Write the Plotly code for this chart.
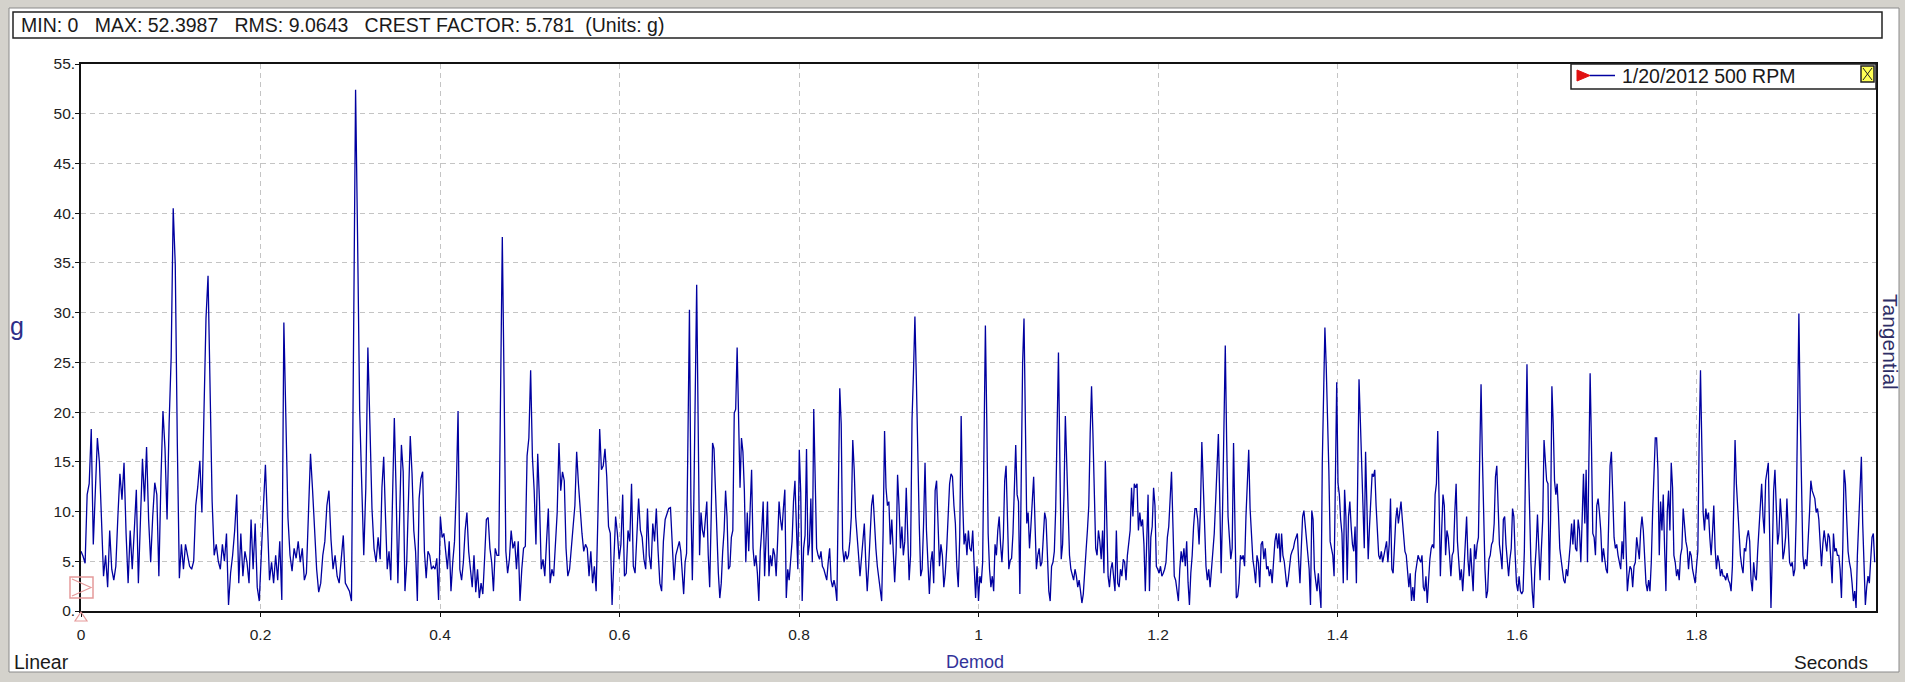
import numpy as np
import plotly.graph_objects as go

# ---- data: demodulated acceleration waveform (g), read in six 1/3-second blocks ----
SEG_1 = [6.0, 5.5, 4.8, 11.7, 12.8, 18.3, 6.7, 12.2, 17.4, 14.9,
         9.2, 3.5, 5.6, 2.4, 8.1, 4.2, 3.1, 4.5, 9.5, 13.8,
         11.2, 14.9, 7.8, 2.8, 8.1, 4.2, 8.1, 12.2, 2.8, 8.1,
         15.3, 11.0, 16.5, 9.2, 4.9, 9.5, 12.9, 11.7, 3.5, 13.1,
         20.1, 16.3, 9.2, 18.8, 25.5, 40.5, 34.8, 16.9, 3.3,
         6.7, 4.2, 6.7, 5.5, 4.5, 4.2, 5.0, 10.6, 12.5, 15.1,
         9.9, 19.9, 29.4, 33.7, 23.5, 11.0, 5.6, 6.7, 5.0, 4.2,
         6.7, 5.0, 7.8, 0.6, 3.8, 5.6, 8.1, 11.7, 2.8, 7.8,
         3.5, 6.0, 4.9, 2.8, 9.2, 4.2, 8.8, 2.4, 1.0, 6.3,
         10.4, 14.7, 8.5, 3.1, 4.9, 2.8, 5.6, 3.1, 7.0, 1.1,
         29.0, 17.6, 9.4, 5.6, 4.0, 6.3, 5.3, 7.0, 4.9, 6.3,
         3.1, 3.8, 9.5, 15.8, 12.2, 7.8, 4.2, 1.9, 2.8, 5.6,
         7.0, 10.6, 12.1, 7.2, 4.2, 5.6, 3.5, 2.8, 5.6, 7.6,
         2.8, 2.4, 2.0, 1.0, 31.7, 52.4, 37.1, 20.1, 12.8, 5.6,
         12.4, 26.5, 18.7, 10.3, 6.3, 4.9, 7.4]
SEG_2 = [5.2, 12.4, 15.5, 9.5, 4.2, 6.0, 3.1, 11.5, 19.4, 12.1,
         2.8, 9.5, 16.7, 14.0, 2.0, 4.9, 12.4, 17.6, 13.8, 8.1,
         6.0, 1.0, 11.3, 13.3, 14.0, 6.0, 3.3, 6.0, 5.6, 4.2,
         4.5, 4.2, 5.3, 1.1, 9.5, 7.4, 7.8, 6.3, 4.2, 7.0,
         2.0, 4.9, 7.0, 12.2, 20.1, 4.2, 3.1, 4.9, 8.1, 9.9,
         6.0, 4.2, 2.4, 5.6, 1.9, 4.2, 1.3, 2.8, 1.7, 5.3,
         9.2, 9.4, 6.3, 4.9, 2.0, 6.3, 5.6, 5.6, 22.1, 37.6,
         22.8, 6.0, 3.8, 5.2, 8.1, 6.3, 7.0, 4.2, 7.0, 1.0,
         4.2, 6.3, 6.5, 15.6, 17.4, 24.2, 15.5, 12.1, 6.7, 15.8,
         11.0, 4.2, 5.2, 3.5, 7.0, 10.3, 2.8, 4.2, 3.5, 6.3,
         9.9, 16.9, 12.1, 14.0, 13.1, 6.3, 3.5, 4.2, 6.7, 8.5,
         10.6, 16.0, 12.8, 9.9, 7.8, 6.0, 6.7, 6.3, 3.5, 6.0,
         2.8, 4.5, 2.0, 9.5, 18.3, 14.2, 14.6, 16.3, 13.5, 8.5,
         7.8, 0.6, 5.6, 9.5, 7.8, 5.2, 6.7, 11.7, 3.5, 3.8,
         8.1, 7.0, 12.8, 4.5, 3.8, 7.8, 11.3, 8.1, 7.4, 5.2,
         4.2, 10.3, 5.6, 4.2, 8.8, 7.0, 10.3, 6.0, 2.8, 2.0,
         7.0, 9.2, 9.9, 10.3, 10.4, 6.3, 3.1, 5.6, 6.3]
SEG_3 = [7.0, 6.0, 3.5, 1.7, 4.9, 5.8, 17.8, 30.3, 11.0, 3.1,
         10.8, 24.6, 32.8, 19.2, 5.6, 9.9, 8.1, 7.4, 9.2, 11.0,
         5.6, 2.4, 9.2, 16.9, 16.3, 11.7, 7.0, 3.8, 1.3, 2.8,
         6.0, 8.1, 12.1, 9.5, 4.2, 4.5, 7.4, 8.1, 19.9, 20.3,
         26.5, 18.1, 12.4, 17.4, 16.0, 12.1, 4.9, 9.9, 6.0, 10.3,
         14.2, 6.3, 4.5, 5.6, 3.8, 1.0, 6.0, 8.1, 11.0, 3.5,
         7.8, 11.0, 3.5, 5.6, 4.5, 6.3, 5.6, 3.5, 7.0, 11.0,
         9.2, 8.1, 10.3, 12.2, 1.3, 4.2, 3.1, 4.9, 7.0, 11.0,
         13.1, 8.5, 4.2, 16.2, 11.9, 1.0, 6.3, 7.6, 16.3, 5.6,
         6.7, 11.3, 4.9, 20.3, 12.4, 6.3, 5.6, 5.2, 6.0, 4.5,
         4.2, 3.5, 3.1, 4.9, 6.3, 3.1, 2.4, 3.1, 2.4, 1.0,
         11.3, 22.4, 18.8, 6.3, 4.9, 6.0, 5.2, 5.6, 7.0, 9.5,
         17.2, 14.2, 9.5, 7.8, 5.6, 3.5, 5.2, 6.7, 8.8, 4.9,
         2.0, 4.5, 7.8, 10.6, 11.7, 8.8, 6.3, 4.5, 3.1, 2.0,
         1.0, 7.8, 18.1, 12.4, 10.6, 11.0, 6.7, 9.2, 6.3, 2.9,
         6.0, 13.7, 10.6, 6.3, 8.5, 5.6, 7.0, 12.4, 7.8, 3.1,
         5.6, 19.2, 23.9, 29.6, 23.3, 14.9, 8.8, 3.5, 4.2, 8.8,
         14.9, 8.1, 4.2, 1.7, 4.9, 6.0, 2.8, 12.1, 13.1, 8.1,
         4.5, 6.7, 5.6, 2.4, 3.8, 6.3, 9.2, 12.8, 13.8, 13.5,
         10.6, 8.8, 4.5, 2.4, 7.4, 19.6, 11.3, 6.7, 7.8, 5.6,
         8.1, 6.3, 6.0, 8.1, 4.5, 1.3, 4.5]
SEG_4 = [1.0, 3.5, 2.8, 4.9, 15.6, 28.7, 19.2, 7.8, 4.2, 2.4,
         3.5, 2.0, 6.7, 5.6, 8.1, 9.5, 6.7, 4.9, 7.4, 13.1,
         14.6, 9.2, 4.2, 5.1, 5.3, 7.8, 11.7, 16.7, 11.7, 11.0,
         1.7, 14.2, 24.9, 29.4, 19.0, 8.8, 9.9, 6.3, 8.5, 11.0,
         13.5, 8.8, 4.2, 5.6, 6.3, 4.5, 4.9, 7.4, 9.9, 9.2,
         4.9, 2.0, 1.0, 4.5, 4.9, 6.0, 10.3, 18.1, 26.0, 15.3,
         5.2, 6.7, 11.7, 19.6, 14.9, 8.1, 5.6, 4.2, 3.5, 3.1,
         4.2, 3.5, 2.4, 3.1, 2.0, 0.8, 1.7, 4.5, 6.0, 8.1,
         10.6, 17.8, 22.6, 17.8, 11.7, 6.3, 5.6, 8.1, 7.0, 5.2,
         8.1, 3.8, 15.1, 9.5, 3.5, 2.4, 4.2, 4.9, 3.1, 2.0,
         8.1, 2.8, 2.4, 4.2, 3.5, 5.2, 4.9, 3.1, 5.6, 7.0,
         8.1, 12.4, 9.5, 12.8, 12.4, 12.8, 8.1, 9.9, 8.5, 9.2,
         6.7, 2.0, 6.7, 11.7, 2.0, 7.4, 8.5, 12.4, 10.6, 4.5,
         4.2, 3.8, 4.5, 3.5, 3.8, 4.2, 4.9, 7.4, 8.5, 11.7,
         14.0, 8.8, 3.5, 3.1, 2.0, 1.0, 4.2, 6.0, 4.9, 6.3,
         4.5, 7.0, 2.9, 0.6, 3.8, 5.6, 8.5, 10.3, 10.3, 9.2,
         6.7, 10.3, 17.0, 12.1, 7.0, 4.5, 3.1, 4.2, 2.4, 4.2,
         6.3, 7.8, 11.0, 14.9, 17.8, 11.2, 3.8, 9.9, 21.4, 26.7,
         17.0, 9.5, 7.4, 5.2, 6.3, 16.9, 8.8, 1.3, 1.5, 2.8,
         5.6, 5.2, 5.6, 4.5, 9.5, 13.8, 16.2, 10.3, 7.8, 5.2,
         4.2, 2.8, 5.6, 4.9, 2.4, 6.7, 7.0, 5.2, 6.3, 4.2,
         4.5, 3.5, 4.2, 2.8, 4.9, 7.0, 7.8]
SEG_5 = [6.3, 7.8, 4.9, 7.8, 5.6, 5.0, 3.8, 2.4, 3.1, 4.5,
         5.6, 6.0, 6.3, 7.0, 7.4, 7.8, 5.0, 2.8, 6.3, 9.5,
         10.1, 8.5, 6.7, 6.0, 4.2, 0.6, 10.1, 9.2, 4.2, 3.0,
         2.0, 3.8, 1.7, 0.3, 14.9, 21.4, 28.5, 24.6, 19.9, 14.2,
         7.0, 6.3, 5.6, 3.5, 12.8, 23.0, 12.8, 11.7, 9.2, 7.8,
         2.8, 12.2, 9.5, 3.1, 9.5, 11.0, 8.5, 6.7, 6.0, 8.5,
         2.8, 12.1, 23.3, 19.2, 13.5, 10.6, 6.3, 16.0, 10.6, 5.2,
         8.5, 10.6, 13.8, 13.5, 14.2, 10.6, 8.1, 5.6, 5.2, 6.0,
         4.9, 5.6, 6.3, 7.0, 4.9, 6.7, 11.3, 4.2, 3.8, 7.0,
         9.2, 10.4, 8.8, 9.9, 11.0, 9.2, 7.0, 6.0, 5.6, 3.5,
         2.4, 3.8, 1.0, 2.4, 1.0, 3.8, 4.9, 5.6, 5.2, 4.9,
         5.6, 2.4, 2.0, 3.5, 0.8, 3.1, 5.2, 6.3, 6.7, 6.3,
         11.7, 12.8, 18.1, 11.3, 3.5, 8.1, 11.7, 10.6, 5.6, 8.1,
         7.4, 5.6, 3.5, 5.6, 6.0, 9.9, 12.8, 7.0, 4.9, 3.1,
         4.2, 2.0, 4.2, 7.0, 9.5, 5.2, 3.5, 6.3, 3.8, 2.0,
         6.7, 5.2, 6.7, 7.4, 15.6, 22.8, 15.6, 8.1, 4.2, 1.3,
         2.0, 5.2, 5.6, 6.7, 7.0, 8.8, 13.5, 14.6, 11.0, 6.7,
         5.6, 4.2, 9.2, 9.5, 6.7, 4.5, 3.5, 5.2, 6.3, 10.3,
         9.5, 5.6, 2.8, 2.0, 3.5, 2.0, 1.7, 2.0, 6.0, 15.5,
         24.8, 15.5, 9.2, 4.9, 2.0, 0.3, 4.2, 6.3, 9.7, 7.0,
         3.1, 6.3, 9.2, 17.2, 15.6, 13.1, 12.8, 3.1, 9.2, 22.6,
         18.8, 13.1, 11.7, 12.8, 9.9, 6.3, 5.2, 4.2, 3.1, 2.8,
         4.2, 3.5, 4.9, 6.7, 8.8, 6.7, 9.2, 6.3]
SEG_6 = [6.0, 9.2, 8.1, 4.9, 9.2, 13.8, 8.8, 14.2, 4.9, 14.2,
         23.9, 16.7, 7.8, 7.4, 5.6, 10.6, 11.3, 9.9, 8.1, 4.9,
         6.3, 5.2, 4.2, 3.8, 8.8, 14.6, 16.0, 11.7, 7.4, 6.3,
         6.7, 5.6, 4.9, 4.2, 7.0, 5.2, 11.0, 5.6, 2.0, 3.5,
         4.5, 4.2, 2.4, 4.5, 4.9, 7.4, 6.3, 5.2, 8.1, 9.5,
         8.1, 4.9, 2.8, 2.0, 3.1, 2.0, 4.9, 9.9, 14.2, 17.4,
         17.4, 14.2, 5.6, 11.0, 8.1, 11.7, 6.3, 2.0, 9.9, 12.1,
         8.1, 14.9, 12.4, 5.6, 4.9, 3.5, 4.2, 3.1, 5.6, 6.3,
         10.3, 8.1, 7.0, 6.3, 4.2, 6.0, 5.6, 4.2, 3.5, 2.8,
         4.5, 6.0, 17.1, 24.2, 16.7, 9.9, 8.1, 10.3, 9.2, 9.9,
         7.4, 5.6, 7.8, 10.6, 6.3, 4.2, 5.6, 4.9, 3.5, 4.2,
         3.5, 3.5, 3.1, 3.8, 3.1, 2.8, 2.0, 4.5, 10.6, 17.2,
         12.8, 10.3, 6.7, 5.6, 4.5, 3.8, 6.3, 6.0, 7.4, 8.1,
         7.0, 3.1, 2.0, 4.9, 3.5, 3.1, 6.0, 8.1, 10.6, 12.8,
         9.5, 7.8, 13.1, 13.8, 14.9, 7.8, 0.3, 5.6, 12.1, 14.2,
         10.3, 6.7, 7.8, 11.3, 9.2, 5.2, 6.0, 7.4, 11.3, 8.5,
         4.9, 4.5, 4.9, 3.5, 4.2, 9.5, 17.8, 29.9, 19.9, 11.0,
         5.6, 4.2, 5.2, 4.5, 8.1, 9.9, 13.1, 12.1, 11.7, 11.3,
         9.9, 10.3, 9.2, 6.3, 4.5, 6.7, 8.1, 7.0, 6.0, 7.8,
         7.4, 5.2, 2.8, 7.8, 6.0, 6.3, 5.6, 5.6, 4.2, 1.3,
         6.3, 14.2, 12.8, 9.2, 6.0, 4.9, 4.2, 2.8, 1.0, 2.0,
         0.3, 5.6, 9.5, 11.3, 15.5, 8.8, 4.2, 0.6, 2.4, 3.5,
         2.8, 4.9, 7.4, 7.8, 4.9]

SEGMENTS = [SEG_1, SEG_2, SEG_3, SEG_4, SEG_5, SEG_6]
BLOCK_SECONDS = 1.0 / 3.0

Y_TICKS = [0, 5, 10, 15, 20, 25, 30, 35, 40, 45, 50, 55]
Y_TICK_TEXT = ["0.", "5.", "10.", "15.", "20.", "25.", "30.", "35.", "40.", "45.", "50.", "55."]
X_TICKS = [0, 0.2, 0.4, 0.6, 0.8, 1.0, 1.2, 1.4, 1.6, 1.8]
X_TICK_TEXT = ["0", "0.2", "0.4", "0.6", "0.8", "1", "1.2", "1.4", "1.6", "1.8"]

HEADER = "MIN: 0   MAX: 52.3987   RMS: 9.0643   CREST FACTOR: 5.781  (Units: g)"
SERIES_NAME = "1/20/2012 500 RPM"

# sample times: each block holds evenly spaced samples
t_all, g_all = [], []
for k, seg in enumerate(SEGMENTS):
    n = len(seg)
    t_all.extend(k * BLOCK_SECONDS + BLOCK_SECONDS * np.arange(n) / n)
    g_all.extend(seg)

W, H = 1905, 682
L, R, T, B = 81, 29, 64, 71
PW, PH = W - L - R, H - T - B
FONT = "Arial, Liberation Sans, sans-serif"


def px(x):
    return (x - L) / PW


def py(y):
    return (H - B - y) / PH


fig = go.Figure()
fig.add_trace(go.Scatter(x=t_all, y=g_all, mode="lines", name=SERIES_NAME,
                         line=dict(color="#0000a0", width=1.3), showlegend=False))

shapes = []
# window frame
shapes.append(dict(type="rect", xref="paper", yref="paper", x0=px(9), x1=px(1899), y0=py(8), y1=py(672),
                   fillcolor="white", line=dict(color="#8a8a8a", width=1), layer="below"))
# header box
shapes.append(dict(type="rect", xref="paper", yref="paper", x0=px(13), x1=px(1882), y0=py(12), y1=py(38),
                   fillcolor="white", line=dict(color="#222", width=1.5), layer="below"))
# legend box
shapes.append(dict(type="rect", xref="paper", yref="paper", x0=px(1571), x1=px(1876), y0=py(T), y1=py(89),
                   fillcolor="white", line=dict(color="#222", width=1.5), layer="above"))
# legend red triangle + line
shapes.append(dict(type="path", xref="paper", yref="paper",
                   path=f"M {px(1577)} {py(70)} L {px(1590)} {py(75.5)} L {px(1577)} {py(81)} Z",
                   fillcolor="#e01010", line=dict(color="#e01010", width=1), layer="above"))
shapes.append(dict(type="line", xref="paper", yref="paper", x0=px(1590), x1=px(1615), y0=py(75.5), y1=py(75.5),
                   line=dict(color="#0000a0", width=1.5), layer="above"))
# yellow close box
shapes.append(dict(type="rect", xref="paper", yref="paper", x0=px(1861), x1=px(1874), y0=py(66), y1=py(82),
                   fillcolor="#ffff55", line=dict(color="#222", width=1.5), layer="above"))
shapes.append(dict(type="path", xref="paper", yref="paper",
                   path=f"M {px(1863)} {py(68)} L {px(1872)} {py(80)} M {px(1872)} {py(68)} L {px(1863)} {py(80)}",
                   line=dict(color="#222", width=1), layer="above"))
# pink cursor markers at origin
shapes.append(dict(type="rect", xref="paper", yref="paper", x0=px(70), x1=px(93), y0=py(577), y1=py(598),
                   line=dict(color="#e59a9a", width=1.5), layer="above"))
shapes.append(dict(type="path", xref="paper", yref="paper",
                   path=f"M {px(72)} {py(579)} L {px(91)} {py(587.5)} L {px(72)} {py(596)}",
                   line=dict(color="#e59a9a", width=1.2), layer="above"))
shapes.append(dict(type="path", xref="paper", yref="paper",
                   path=f"M {px(81)} {py(612)} L {px(87)} {py(621)} L {px(75)} {py(621)} Z",
                   line=dict(color="#e59a9a", width=1.2), layer="above"))

NB = "\u00a0"
annotations = [
    dict(x=px(19), y=py(25), xref="paper", yref="paper", text=HEADER.replace(" ", NB), showarrow=False,
         xanchor="left", yanchor="middle", font=dict(family=FONT, size=19.5, color="#1a1a1a")),
    dict(x=px(1620), y=py(76), xref="paper", yref="paper", text=SERIES_NAME, showarrow=False,
         xanchor="left", yanchor="middle", font=dict(family=FONT, size=19.5, color="#1a1a1a")),
    dict(x=px(17), y=py(326), xref="paper", yref="paper", text="g", showarrow=False,
         xanchor="center", yanchor="middle", font=dict(family=FONT, size=25, color="#2e2e88")),
    dict(x=px(1891), y=py(342), xref="paper", yref="paper", text="Tangential", showarrow=False, textangle=90,
         xanchor="center", yanchor="middle", font=dict(family=FONT, size=21, color="#2e2e66")),
    dict(x=px(41), y=py(662), xref="paper", yref="paper", text="Linear", showarrow=False,
         xanchor="center", yanchor="middle", font=dict(family=FONT, size=19.5, color="#1a1a1a")),
    dict(x=px(975), y=py(662), xref="paper", yref="paper", text="Demod", showarrow=False,
         xanchor="center", yanchor="middle", font=dict(family=FONT, size=18, color="#33339a")),
    dict(x=px(1831), y=py(662), xref="paper", yref="paper", text="Seconds", showarrow=False,
         xanchor="center", yanchor="middle", font=dict(family=FONT, size=19, color="#1a1a1a")),
]

axis_common = dict(showgrid=True, gridcolor="#c4c4c4", gridwidth=1, griddash="5px,4px",
                   showline=True, linecolor="#111", linewidth=1.5, mirror=True,
                   ticks="outside", ticklen=4, tickcolor="#111", zeroline=False,
                   tickfont=dict(family=FONT, size=15.5, color="#222"))

fig.update_layout(
    width=W, height=H, margin=dict(l=L, r=R, t=T, b=B, pad=0),
    paper_bgcolor="#d4d2cc", plot_bgcolor="white",
    xaxis=dict(range=[0, 2.0], tickvals=X_TICKS, ticktext=X_TICK_TEXT, ticklabelstandoff=5, **axis_common),
    yaxis=dict(range=[0, 55], tickvals=Y_TICKS, ticktext=Y_TICK_TEXT, ticklabelstandoff=-3, **axis_common),
    shapes=shapes, annotations=annotations, showlegend=False,
)

fig.write_html("out.html")
